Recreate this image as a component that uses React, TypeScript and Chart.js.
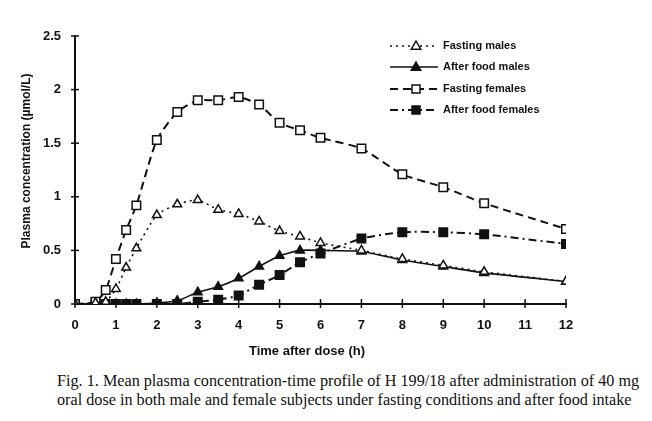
import React, { useEffect, useRef } from "react";
import { Chart, registerables } from "chart.js";

Chart.register(...registerables);

// Sampling times (h)
const hours = [0, 0.5, 0.75, 1, 1.25, 1.5, 2, 2.5, 3, 3.5, 4, 4.5, 5, 5.5, 6, 7, 8, 9, 10, 12];

// Mean plasma concentration (µmol/L)
const fastingMales = [0, 0.01, 0.02, 0.14, 0.34, 0.52, 0.83, 0.93, 0.97, 0.88, 0.84, 0.77, 0.68, 0.63, 0.57, 0.5, 0.42, 0.36, 0.3, 0.21];
const afterFoodMales = [0, 0, 0, 0, 0, 0, 0.01, 0.03, 0.11, 0.16, 0.24, 0.35, 0.45, 0.5, 0.5, 0.49, 0.41, 0.35, 0.29, 0.21];
const fastingFemales = [0, 0.02, 0.13, 0.42, 0.69, 0.92, 1.53, 1.79, 1.9, 1.9, 1.93, 1.86, 1.69, 1.62, 1.55, 1.45, 1.21, 1.09, 0.94, 0.7];
const afterFoodFemales = [0, 0, 0, 0, 0, 0, 0, 0, 0.02, 0.04, 0.08, 0.18, 0.27, 0.39, 0.47, 0.61, 0.67, 0.67, 0.65, 0.56];

const seriesLabels = ["Fasting males", "After food males", "Fasting females", "After food females"];
const yTickValues = [0, 0.5, 1, 1.5, 2, 2.5];
const yTickLabels = ["0", "0.5", "1", "1.5", "2", "2.5"];
const xTickValues = [0, 1, 2, 3, 4, 5, 6, 7, 8, 9, 10, 11, 12];
const xTitle = "Time after dose (h)";
const yTitle = "Plasma concentration (µmol/L)";
const caption = [
  "Fig. 1. Mean plasma concentration-time profile of H 199/18 after administration of 40 mg",
  "oral dose in both male and female subjects under fasting conditions and after food intake",
];

const INK = "#111";
const SANS = "'Liberation Sans', Arial, sans-serif";

const toPoints = (vals: number[]) => vals.map((y, i) => ({ x: hours[i], y }));

function drawMarker(ctx: CanvasRenderingContext2D, style: string, filled: boolean, x: number, y: number, r: number) {
  ctx.save();
  ctx.setLineDash([]);
  ctx.lineWidth = 1.5;
  ctx.strokeStyle = INK;
  ctx.fillStyle = filled ? INK : "#fff";
  ctx.beginPath();
  if (style === "triangle") {
    ctx.moveTo(x, y - r);
    ctx.lineTo(x + r * 0.95, y + r * 0.65);
    ctx.lineTo(x - r * 0.95, y + r * 0.65);
    ctx.closePath();
  } else {
    ctx.rect(x - r, y - r, 2 * r, 2 * r);
  }
  ctx.fill();
  ctx.stroke();
  ctx.restore();
}

// Crossing tick marks on both axes
const crossTicks = {
  id: "crossTicks",
  afterDraw(chart: any) {
    const { ctx, scales, chartArea } = chart;
    ctx.save();
    ctx.strokeStyle = INK;
    ctx.lineWidth = 1.5;
    yTickValues.forEach((v) => {
      const y = scales.y.getPixelForValue(v);
      ctx.beginPath();
      ctx.moveTo(chartArea.left - 4, y);
      ctx.lineTo(chartArea.left + 4, y);
      ctx.stroke();
    });
    xTickValues.forEach((v) => {
      const x = scales.x.getPixelForValue(v);
      ctx.beginPath();
      ctx.moveTo(x, chartArea.bottom - 5);
      ctx.lineTo(x, chartArea.bottom + 4);
      ctx.stroke();
    });
    ctx.restore();
  },
};

// Axis titles
const axisTitles = {
  id: "axisTitles",
  afterDraw(chart: any) {
    const { ctx } = chart;
    ctx.save();
    ctx.fillStyle = INK;
    ctx.font = `bold 13px ${SANS}`;
    ctx.textAlign = "center";
    ctx.textBaseline = "middle";
    ctx.fillText(xTitle, 307, 351);
    ctx.translate(27, 161);
    ctx.rotate(-Math.PI / 2);
    ctx.font = `bold 12px ${SANS}`;
    ctx.fillText(yTitle, 0, 0);
    ctx.restore();
  },
};

// Legend: line sample with marker, then the series name
const lineLegend = {
  id: "lineLegend",
  afterDraw(chart: any) {
    const { ctx } = chart;
    const rows = [46, 67, 89, 110];
    chart.data.datasets.forEach((ds: any, i: number) => {
      const y = rows[i];
      ctx.save();
      ctx.strokeStyle = INK;
      ctx.lineWidth = ds.borderWidth;
      ctx.setLineDash(ds.borderDash || []);
      ctx.beginPath();
      ctx.moveTo(390, y);
      ctx.lineTo(438, y);
      ctx.stroke();
      ctx.restore();
      drawMarker(ctx, ds.pointStyle, ds.pointBackgroundColor !== "#fff", 416, y, ds.pointStyle === "triangle" ? 5 : 4);
      ctx.save();
      ctx.fillStyle = INK;
      ctx.font = `bold 11px ${SANS}`;
      ctx.textBaseline = "middle";
      ctx.fillText(ds.label, 443, y);
      ctx.restore();
    });
  },
};

function App() {
  const ref = useRef<HTMLCanvasElement | null>(null);

  useEffect(() => {
    if (!ref.current) return;
    const common = { borderColor: INK, pointBorderColor: INK, pointBorderWidth: 1.5, tension: 0.2, fill: false };
    const chart = new Chart(ref.current, {
      type: "line",
      data: {
        datasets: [
          {
            ...common,
            label: seriesLabels[0],
            data: toPoints(fastingMales),
            borderWidth: 1.6,
            borderDash: [2, 4],
            pointStyle: "triangle",
            pointRadius: 5,
            pointBackgroundColor: "#fff",
          },
          {
            ...common,
            label: seriesLabels[1],
            data: toPoints(afterFoodMales),
            borderWidth: 1.6,
            borderDash: [],
            pointStyle: "triangle",
            pointRadius: 5,
            pointBackgroundColor: INK,
          },
          {
            ...common,
            label: seriesLabels[2],
            data: toPoints(fastingFemales),
            borderWidth: 2,
            borderDash: [8, 5],
            pointStyle: "rect",
            pointRadius: 6,
            pointBackgroundColor: "#fff",
          },
          {
            ...common,
            label: seriesLabels[3],
            data: toPoints(afterFoodFemales),
            borderWidth: 2,
            borderDash: [8, 4, 2, 4],
            pointStyle: "rect",
            pointRadius: 6,
            pointBackgroundColor: INK,
          },
        ] as any,
      },
      options: {
        animation: false,
        responsive: false,
        maintainAspectRatio: false,
        events: [],
        layout: { padding: { top: 36, right: 86, left: 0, bottom: 0 } },
        plugins: { legend: { display: false }, tooltip: { enabled: false }, title: { display: false } },
        scales: {
          x: {
            type: "linear",
            min: 0,
            max: 12,
            afterFit: (s: any) => {
              s.height = 61;
            },
            afterBuildTicks: (s: any) => {
              s.ticks = xTickValues.map((value) => ({ value }));
            },
            grid: { display: false, drawTicks: false },
            border: { display: true, color: INK, width: 2 },
            ticks: {
              color: INK,
              padding: 14,
              font: { family: SANS, size: 13, weight: "bold" },
              maxRotation: 0,
              callback: (v: number) => String(v),
            },
          },
          y: {
            type: "linear",
            min: 0,
            max: 2.5,
            afterFit: (s: any) => {
              s.width = 75;
            },
            afterBuildTicks: (s: any) => {
              s.ticks = yTickValues.map((value) => ({ value }));
            },
            grid: { display: false, drawTicks: false },
            border: { display: true, color: INK, width: 2 },
            ticks: {
              color: INK,
              padding: 14,
              font: { family: SANS, size: 13, weight: "bold" },
              callback: (v: number) => yTickLabels[yTickValues.indexOf(v)] ?? String(v),
            },
          },
        },
      } as any,
      plugins: [crossTicks, axisTitles, lineLegend],
    });
    return () => chart.destroy();
  }, []);

  return (
    <div style={{ position: "fixed", left: 0, top: 0, width: 652, height: 421, background: "#fff", overflow: "hidden" }}>
      <canvas ref={ref} width={652} height={365} style={{ display: "block", width: 652, height: 365 }} />
      <div
        style={{
          position: "absolute",
          left: 57,
          top: 372,
          fontFamily: "'Liberation Serif', 'Times New Roman', serif",
          fontSize: 16.2,
          lineHeight: "19px",
          color: INK,
          whiteSpace: "nowrap",
        }}
      >
        {caption.map((line, i) => (
          <div key={i}>{line}</div>
        ))}
      </div>
    </div>
  );
}

export default App;
